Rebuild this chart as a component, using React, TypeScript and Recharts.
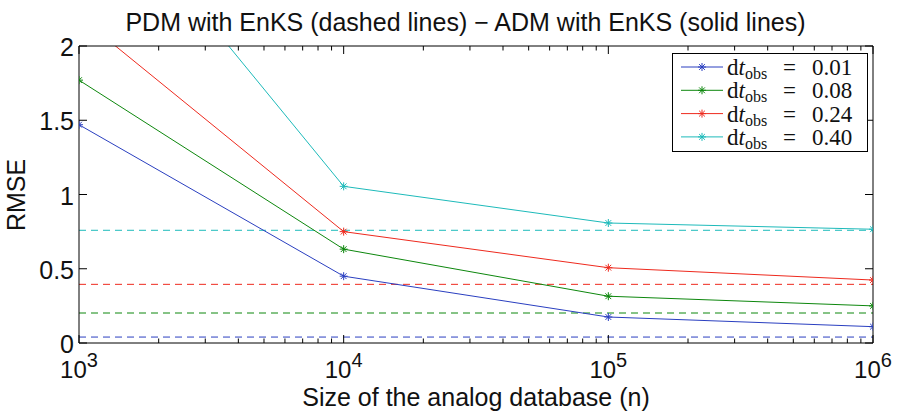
import React from 'react'
import { LineChart, Line, XAxis, YAxis, ReferenceLine } from 'recharts'

// size of the analog database
const analogSizes = [1e3, 1e4, 1e5, 1e6]

// ADM with EnKS (solid lines), one list per observation step
const admDt001 = [1.47, 0.45, 0.175, 0.11]
const admDt008 = [1.77, 0.632, 0.315, 0.25]
const admDt024 = [2.2, 0.75, 0.507, 0.424]
const admDt040 = [3.23, 1.055, 0.808, 0.766]

// PDM with EnKS (dashed lines), constant in n
const pdmRmse = [0.04, 0.202, 0.395, 0.759]

const dtLabels = ['0.01', '0.08', '0.24', '0.40']
const seriesKeys = ['dt001', 'dt008', 'dt024', 'dt040']
const seriesColors = ['#2a3fc0', '#0d870d', '#ee2a1e', '#1dbaba']

const xMajorTicks = [1e3, 1e4, 1e5, 1e6]
const xMinorTicks = [1e3, 1e4, 1e5].flatMap((d) => [2, 3, 4, 5, 6, 7, 8, 9].map((k) => k * d))
const xTicks = [...xMajorTicks, ...xMinorTicks]
const yTicks = [0, 0.5, 1, 1.5, 2]
const yTickLabels = ['0', '0.5', '1', '1.5', '2']

const data = analogSizes.map((n, i) => ({
  n,
  dt001: admDt001[i],
  dt008: admDt008[i],
  dt024: admDt024[i],
  dt040: admDt040[i],
}))

const SANS = '"Liberation Sans", Arial, sans-serif'
const SERIF = '"Liberation Serif", "Times New Roman", serif'

const isMajor = (v: number) => xMajorTicks.includes(v)

function Asterisk({ cx, cy, color, r = 4 }: { cx: number; cy: number; color: string; r?: number }) {
  const d = r * 0.72
  return (
    <g stroke={color} strokeWidth={1}>
      <line x1={cx - r} y1={cy} x2={cx + r} y2={cy} />
      <line x1={cx} y1={cy - r} x2={cx} y2={cy + r} />
      <line x1={cx - d} y1={cy - d} x2={cx + d} y2={cy + d} />
      <line x1={cx - d} y1={cy + d} x2={cx + d} y2={cy - d} />
    </g>
  )
}

function BottomTick({ x, y, payload }: any) {
  const v = payload.value as number
  const major = isMajor(v)
  return (
    <g>
      <line x1={x} y1={y} x2={x} y2={y - (major ? 8 : 4.5)} stroke="#000" />
      {major && (
        <text x={x} y={y + 35} textAnchor="middle" fontFamily={SANS} fontSize={24} fill="#111">
          10
          <tspan dy={-11} fontSize={20}>
            {Math.round(Math.log10(v))}
          </tspan>
        </text>
      )}
    </g>
  )
}

function TopTick({ x, y, payload }: any) {
  const major = isMajor(payload.value)
  return <line x1={x} y1={y} x2={x} y2={y + (major ? 8 : 4.5)} stroke="#000" />
}

function LeftTick({ x, y, payload }: any) {
  const idx = yTicks.indexOf(payload.value)
  return (
    <g>
      <line x1={x} y1={y} x2={x + 8} y2={y} stroke="#000" />
      <text x={x - 5} y={y} dy="0.4em" textAnchor="end" fontFamily={SANS} fontSize={25} fill="#111">
        {yTickLabels[idx]}
      </text>
    </g>
  )
}

function RightTick({ x, y }: any) {
  return <line x1={x} y1={y} x2={x - 8} y2={y} stroke="#000" />
}

const legendTop = 53
const legendStep = 23.3

export default function App() {
  return (
    <div style={{ position: 'absolute', left: 0, top: 0, width: 899, height: 412, background: '#fff' }}>
      <LineChart width={899} height={412} data={data} margin={{ top: 45, right: 25, bottom: 68, left: 78 }}>
        <XAxis
          xAxisId="bottom"
          dataKey="n"
          type="number"
          scale="log"
          domain={[1e3, 1e6]}
          allowDataOverflow
          ticks={xTicks}
          interval={0}
          tickSize={0}
          tickMargin={0}
          tick={BottomTick}
          tickLine={false}
          axisLine={{ stroke: '#000' }}
          height={1}
        />
        <XAxis
          xAxisId="top"
          orientation="top"
          dataKey="n"
          type="number"
          scale="log"
          domain={[1e3, 1e6]}
          allowDataOverflow
          ticks={xTicks}
          interval={0}
          tickSize={0}
          tickMargin={0}
          tick={TopTick}
          tickLine={false}
          axisLine={{ stroke: '#000' }}
          height={1}
        />
        <YAxis
          yAxisId="left"
          type="number"
          domain={[0, 2]}
          allowDataOverflow
          ticks={yTicks}
          interval={0}
          tickSize={0}
          tickMargin={0}
          tick={LeftTick}
          tickLine={false}
          axisLine={{ stroke: '#000' }}
          width={1}
        />
        <YAxis
          yAxisId="right"
          orientation="right"
          type="number"
          domain={[0, 2]}
          allowDataOverflow
          ticks={yTicks}
          interval={0}
          tickSize={0}
          tickMargin={0}
          tick={RightTick}
          tickLine={false}
          axisLine={{ stroke: '#000' }}
          width={1}
        />
        {pdmRmse.map((v, i) => (
          <ReferenceLine
            key={`pdm-${i}`}
            xAxisId="bottom"
            yAxisId="left"
            y={v}
            stroke={seriesColors[i]}
            strokeWidth={1}
            strokeDasharray="7 5"
          />
        ))}
        {seriesKeys.map((k, i) => (
          <Line
            key={k}
            xAxisId="bottom"
            yAxisId="left"
            type="linear"
            dataKey={k}
            stroke={seriesColors[i]}
            strokeWidth={1}
            isAnimationActive={false}
            dot={(p: any) => <Asterisk key={`${k}-${p.index}`} cx={p.cx} cy={p.cy} color={seriesColors[i]} />}
            activeDot={false}
          />
        ))}
      </LineChart>

      <svg width={899} height={412} style={{ position: 'absolute', left: 0, top: 0, pointerEvents: 'none' }}>
        <text x={465.5} y={31} textAnchor="middle" fontFamily={SANS} fontSize={25} fill="#111">
          PDM with EnKS (dashed lines) − ADM with EnKS (solid lines)
        </text>
        <text x={476} y={405.5} textAnchor="middle" fontFamily={SANS} fontSize={25} fill="#111">
          Size of the analog database (n)
        </text>
        <text
          x={0}
          y={0}
          transform="translate(25 195) rotate(-90)"
          textAnchor="middle"
          fontFamily={SANS}
          fontSize={25}
          fill="#111"
        >
          RMSE
        </text>

        <rect x={672.5} y={legendTop + 0.5} width={195} height={98} fill="#fff" stroke="#000" />
        {dtLabels.map((lab, i) => {
          const base = legendTop + 22 + i * legendStep
          const mid = base - 8
          return (
            <g key={lab}>
              <line x1={681} y1={mid} x2={723} y2={mid} stroke={seriesColors[i]} />
              <Asterisk cx={702} cy={mid} color={seriesColors[i]} />
              <text x={727} y={base} fontFamily={SERIF} fontSize={23} fill="#111">
                d<tspan fontStyle="italic">t</tspan>
                <tspan dy={4} fontSize={16}>
                  obs
                </tspan>
                <tspan x={783} dy={-4}>
                  =
                </tspan>
                <tspan x={812}>{lab}</tspan>
              </text>
            </g>
          )
        })}
      </svg>
    </div>
  )
}
